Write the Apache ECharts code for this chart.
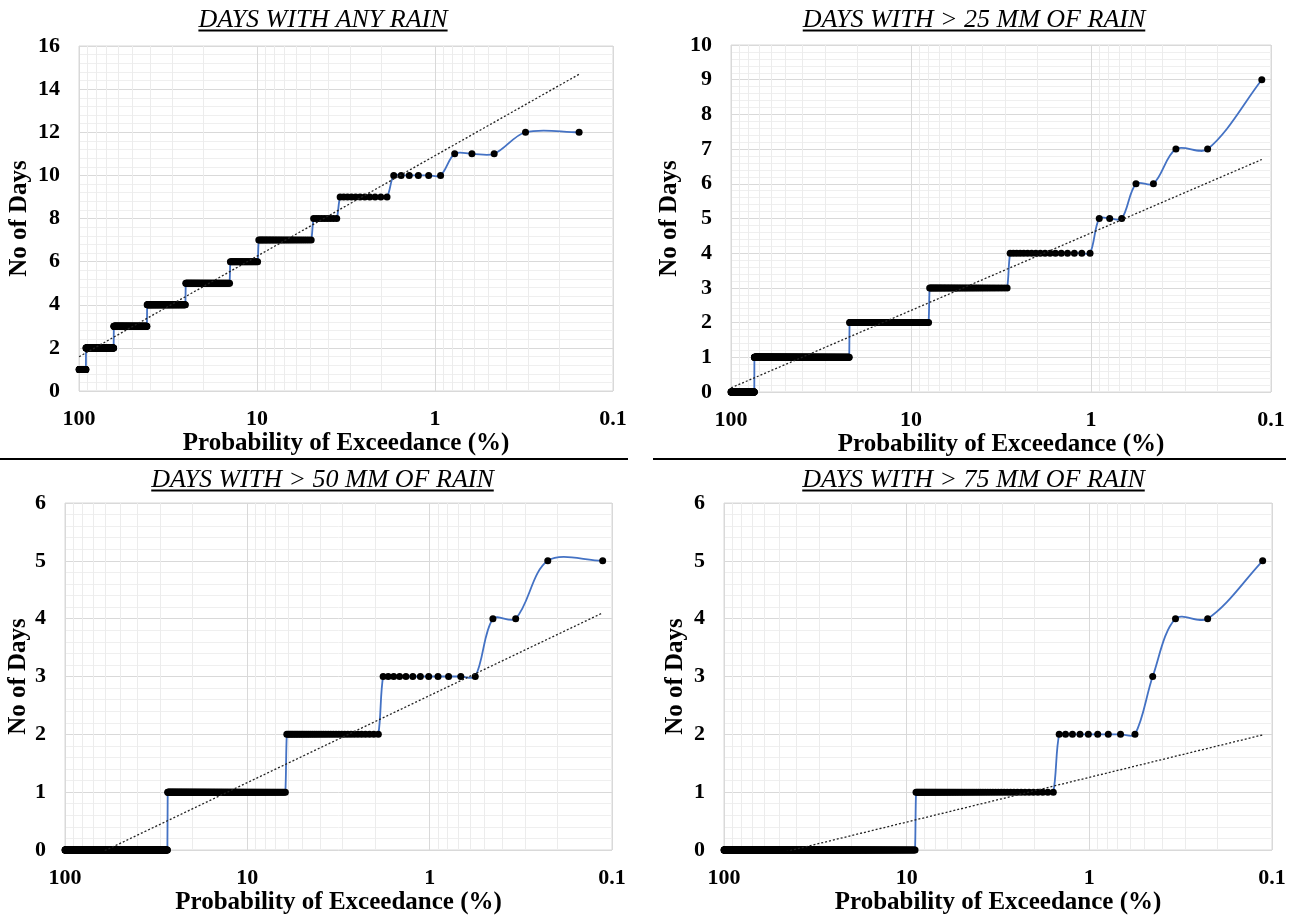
<!DOCTYPE html>
<html><head><meta charset="utf-8">
<script src="https://cdn.jsdelivr.net/npm/echarts@6/dist/echarts.min.js"></script>
<style>html,body{margin:0;padding:0;background:#fff}#c{width:1294px;height:917px}</style>
</head><body><div id="c"></div>
<script>
// ---- Chart text ----
const titles = ['DAYS WITH ANY RAIN', 'DAYS WITH > 25 MM OF RAIN', 'DAYS WITH > 50 MM OF RAIN', 'DAYS WITH > 75 MM OF RAIN'];
const xAxisTitle = 'Probability of Exceedance (%)';
const yAxisTitle = 'No of Days';
const xTickLabels = [100, 10, 1, 0.1];
const xMinorGridValues = [90, 80, 70, 60, 50, 40, 30, 20, 9, 8, 7, 6, 5, 4, 3, 2, 0.9, 0.8, 0.7, 0.6, 0.5, 0.4, 0.3, 0.2];

// ---- Sorted samples (descending): each level and how many ranked records sit on it ----
const levels1 = [12, 11, 10, 9, 8, 7, 6, 5, 4, 3, 2, 1];
const counts1 = [2, 3, 6, 11, 9, 32, 28, 71, 105, 144, 178, 55];
const levels2 = [9, 7, 6, 5, 4, 3, 2, 1, 0];
const counts2 = [1, 2, 2, 3, 17, 45, 125, 464, 229];
const levels3 = [5, 4, 3, 2, 1, 0];
const counts3 = [2, 2, 12, 38, 189, 645];
const levels4 = [5, 4, 3, 2, 1, 0];
const counts4 = [1, 2, 1, 9, 66, 809];

// ---- Logarithmic trendlines (end points: exceedance %, days) ----
const trend1 = [[99.85, 1.59], [0.155, 14.69]];
const trend2 = [[99.89, 0.12], [0.1125, 6.70]];
const trend3 = [[99.89, -0.34], [0.1125, 4.10]];
const trend4 = [[99.89, -0.29], [0.1125, 1.99]];

// ---- Y axis ranges ----
const yMaxes = [16, 10, 6, 6];
const yIntervals = [2, 1, 1, 1];

const FONT = '"Liberation Serif", "Times New Roman", serif';

// Weibull plotting position: P = m/(N+1) * 100
function rankedPoints(levels, counts) {
  const N = counts.reduce((a, b) => a + b, 0);
  const pts = [];
  let m = 0;
  levels.forEach((lv, k) => {
    for (let j = 0; j < counts[k]; j++) { m++; pts.push([100 * m / (N + 1), lv]); }
  });
  return pts;
}

// Smoothed (spreadsheet-style Bezier) curve through the points, in pixel space via the axes
function smoothPath(api, pts) {
  const P = pts.map(p => api.coord(p));
  const n = P.length;
  const L = (a, b) => Math.hypot(b[0] - a[0], b[1] - a[1]);
  let d = 'M' + P[0][0].toFixed(2) + ' ' + P[0][1].toFixed(2);
  for (let i = 0; i < n - 1; i++) {
    const p0 = P[Math.max(i - 1, 0)], p1 = P[i], p2 = P[i + 1], p3 = P[Math.min(i + 2, n - 1)];
    const l01 = L(p0, p1), l12 = L(p1, p2), l23 = L(p2, p3);
    const k1 = (l01 + l12) > 0 ? l12 / (l01 + l12) / 3 : 0;
    const k2 = (l12 + l23) > 0 ? l12 / (l12 + l23) / 3 : 0;
    const c1x = p1[0] + (p2[0] - p0[0]) * k1, c1y = p1[1] + (p2[1] - p0[1]) * k1;
    const c2x = p2[0] - (p3[0] - p1[0]) * k2, c2y = p2[1] - (p3[1] - p1[1]) * k2;
    d += 'C' + c1x.toFixed(2) + ' ' + c1y.toFixed(2) + ' ' + c2x.toFixed(2) + ' ' + c2y.toFixed(2) + ' ' + p2[0].toFixed(2) + ' ' + p2[1].toFixed(2);
  }
  return d;
}

const panels = [
  { levels: levels1, counts: counts1, trend: trend1, grid: { left: 79, top: 46, width: 534, height: 345 }, yGap: 47, title: [323, 20] },
  { levels: levels2, counts: counts2, trend: trend2, grid: { left: 731, top: 45, width: 540, height: 347 }, yGap: 49, title: [974, 20] },
  { levels: levels3, counts: counts3, trend: trend3, grid: { left: 65, top: 503, width: 547, height: 347 }, yGap: 29, title: [322.5, 480] },
  { levels: levels4, counts: counts4, trend: trend4, grid: { left: 724, top: 503, width: 548, height: 347 }, yGap: 36, title: [973.5, 480] }
];

const grids = [], xAxes = [], yAxes = [], series = [], graphics = [];
const titleFont = 'italic 26px ' + FONT;
const meas = document.createElement('canvas').getContext('2d');

panels.forEach((p, i) => {
  const pts = rankedPoints(p.levels, p.counts);
  grids.push(Object.assign({ show: true, borderColor: '#d9d9d9', borderWidth: 1, backgroundColor: 'transparent', containLabel: false, outerBoundsMode: 'none' }, p.grid));
  xAxes.push({
    gridIndex: i, type: 'log', logBase: 10, min: 0.1, max: 100, inverse: true,
    name: xAxisTitle, nameLocation: 'middle', nameGap: 38,
    nameTextStyle: { fontFamily: FONT, fontSize: 25, fontWeight: 'bold', color: '#000' },
    axisLine: { show: false }, axisTick: { show: false },
    axisLabel: {
      margin: 17, fontFamily: FONT, fontSize: 22, fontWeight: 'bold', color: '#000',
      formatter: v => { const r = xTickLabels.find(t => Math.abs(t - v) / t < 1e-6); return r === undefined ? '' : String(r); }
    },
    splitLine: { show: true, lineStyle: { color: '#d9d9d9', width: 1 } }
  });
  yAxes.push({
    gridIndex: i, type: 'value', min: 0, max: yMaxes[i], interval: yIntervals[i],
    name: yAxisTitle, nameLocation: 'middle', nameGap: p.yGap, nameRotate: 90,
    nameTextStyle: { fontFamily: FONT, fontSize: 25, fontWeight: 'bold', color: '#000' },
    axisLine: { show: false }, axisTick: { show: false },
    axisLabel: { margin: 19, fontFamily: FONT, fontSize: 22, fontWeight: 'bold', color: '#000' },
    splitLine: { show: true, lineStyle: { color: '#d9d9d9', width: 1 } },
    minorTick: { show: false, splitNumber: 5 },
    minorSplitLine: { show: true, lineStyle: { color: '#efefef', width: 1 } }
  });
  // blue smoothed line
  series.push({
    type: 'custom', xAxisIndex: i, yAxisIndex: i, data: pts, silent: true, animation: false, z: 2,
    renderItem: (params, api) => {
      if (params.dataIndex !== 0) return null;
      return { type: 'path', shape: { pathData: smoothPath(api, pts) },
        style: { stroke: '#4472C4', fill: null, lineWidth: 1.8 } };
    }
  });
  // black markers
  series.push({
    type: 'scatter', xAxisIndex: i, yAxisIndex: i, data: pts, symbol: 'circle', symbolSize: 7,
    itemStyle: { color: '#000', opacity: 1 }, emphasis: { disabled: true }, silent: true, animation: false, z: 3
  });
  // dotted trendline + minor x gridlines
  series.push({
    type: 'line', xAxisIndex: i, yAxisIndex: i, data: p.trend, symbol: 'none',
    lineStyle: { color: '#222', width: 1.3, type: [2, 2] }, silent: true, animation: false, z: 4,
    markLine: {
      z: 1, silent: true, symbol: ['none', 'none'], label: { show: false }, animation: false,
      lineStyle: { color: '#ececec', width: 1, type: 'solid' }, emphasis: { disabled: true },
      data: xMinorGridValues.map(v => ({ xAxis: v }))
    }
  });
  // title with underline
  meas.font = titleFont;
  const w = meas.measureText(titles[i]).width;
  graphics.push({ type: 'text', x: p.title[0], y: p.title[1], silent: true,
    style: { text: titles[i], font: titleFont, fill: '#000', align: 'center', verticalAlign: 'middle' } });
  graphics.push({ type: 'line', silent: true,
    shape: { x1: p.title[0] - w / 2, y1: p.title[1] + 10.5, x2: p.title[0] + w / 2, y2: p.title[1] + 10.5 },
    style: { stroke: '#000', lineWidth: 2 } });
});

// panel separators
graphics.push({ type: 'line', silent: true, shape: { x1: 0, y1: 459, x2: 628, y2: 459 }, style: { stroke: '#000', lineWidth: 2 } });
graphics.push({ type: 'line', silent: true, shape: { x1: 653, y1: 459, x2: 1286, y2: 459 }, style: { stroke: '#000', lineWidth: 2 } });

const chart = echarts.init(document.getElementById('c'), null, { renderer: 'canvas' });
chart.setOption({
  animation: false, backgroundColor: '#fff',
  grid: grids, xAxis: xAxes, yAxis: yAxes, series: series, graphic: graphics
});
</script></body></html>
